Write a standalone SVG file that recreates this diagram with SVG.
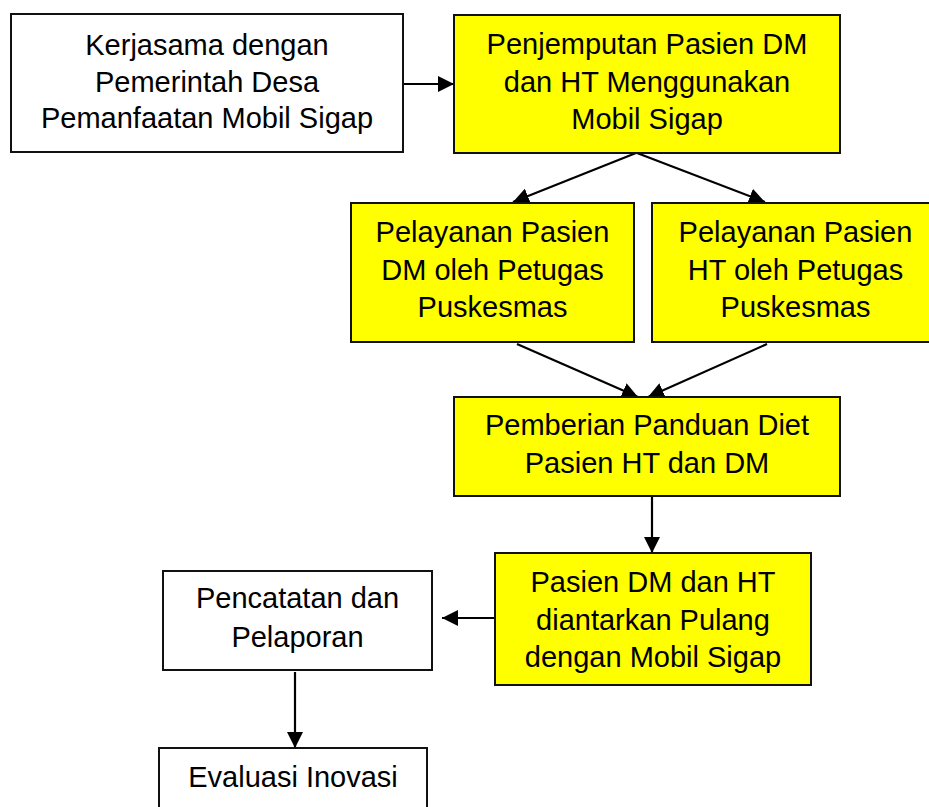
<svg xmlns="http://www.w3.org/2000/svg" width="929" height="807" viewBox="0 0 929 807">
<style>
.box{stroke:#111;stroke-width:2}
.w{fill:#ffffff}
.y{fill:#ffff00}
text{font-family:"Liberation Sans",Arial,sans-serif;font-size:29px;fill:#000;text-anchor:middle}
.c{stroke:#000;stroke-width:2.2;fill:none;marker-end:url(#ah)}
</style>
<defs>
<marker id="ah" viewBox="0 0 16 16" refX="16" refY="8" markerWidth="16" markerHeight="16" markerUnits="userSpaceOnUse" orient="auto">
<path d="M0,0 L16,8 L0,16 z" fill="#000"/>
</marker>
</defs>
<rect width="929" height="807" fill="#fff"/>
<g id="connectors">
<line class="c" x1="403" y1="84" x2="454" y2="84"/>
<line class="c" x1="636" y1="153" x2="513" y2="202"/>
<line class="c" x1="637" y1="153" x2="765" y2="202"/>
<line class="c" x1="517" y1="344" x2="638" y2="397"/>
<line class="c" x1="767" y1="344" x2="648" y2="397"/>
<line class="c" x1="652" y1="496" x2="652" y2="553"/>
<line class="c" x1="495" y1="618" x2="442" y2="618"/>
<line class="c" x1="295" y1="672" x2="295" y2="748"/>
</g>
<g id="n1">
<rect class="box w" x="11" y="14" width="392" height="138"/>
<text x="207" y="55">Kerjasama dengan</text>
<text x="207" y="92">Pemerintah Desa</text>
<text x="207" y="128">Pemanfaatan Mobil Sigap</text>
</g>
<g id="n2">
<rect class="box y" x="454" y="15" width="386" height="138"/>
<text x="647" y="54">Penjemputan Pasien DM</text>
<text x="647" y="92">dan HT Menggunakan</text>
<text x="647" y="129">Mobil Sigap</text>
</g>
<g id="n3">
<rect class="box y" x="351" y="203" width="283" height="139"/>
<text x="492.5" y="242">Pelayanan Pasien</text>
<text x="492.5" y="280">DM oleh Petugas</text>
<text x="492.5" y="317">Puskesmas</text>
</g>
<g id="n4">
<rect class="box y" x="652" y="203" width="288" height="139"/>
<text x="795.5" y="242">Pelayanan Pasien</text>
<text x="795.5" y="280">HT oleh Petugas</text>
<text x="795.5" y="317">Puskesmas</text>
</g>
<g id="n5">
<rect class="box y" x="454" y="397" width="386" height="99"/>
<text x="647" y="435">Pemberian Panduan Diet</text>
<text x="647" y="473">Pasien HT dan DM</text>
</g>
<g id="n6">
<rect class="box y" x="495" y="553" width="316" height="132"/>
<text x="653" y="592">Pasien DM dan HT</text>
<text x="653" y="630">diantarkan Pulang</text>
<text x="653" y="667">dengan Mobil Sigap</text>
</g>
<g id="n7">
<rect class="box w" x="163" y="571" width="269" height="99"/>
<text x="297.5" y="608">Pencatatan dan</text>
<text x="297.5" y="647">Pelaporan</text>
</g>
<g id="n8">
<rect class="box w" x="159" y="748" width="268" height="70"/>
<text x="293" y="787">Evaluasi Inovasi</text>
</g>
</svg>
